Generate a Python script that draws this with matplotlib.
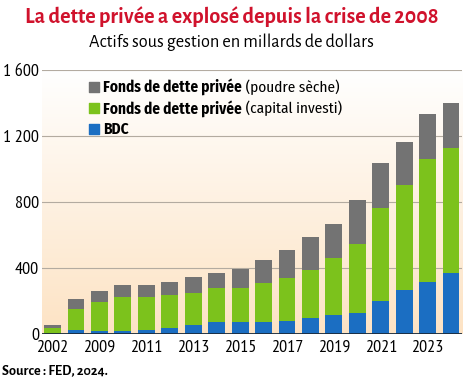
import numpy as np
import matplotlib
matplotlib.use('Agg')
import matplotlib.pyplot as plt
from matplotlib.colors import LinearSegmentedColormap

# Données (milliards de dollars)
annees = ['2002', '2008', '2009', '2010', '2011', '2012', '2013', '2014', '2015',
          '2016', '2017', '2018', '2019', '2020', '2021', '2022', '2023', '2024']
bdc = [3, 24, 18, 18, 26, 38, 55, 73, 75, 75, 81, 95, 115, 127, 198, 267, 313, 372]
capital_investi = [33, 126, 178, 204, 196, 198, 193, 204, 204, 232, 260, 291, 344, 420, 567, 636, 747, 757]
poudre_seche = [20, 60, 63, 73, 73, 79, 97, 95, 113, 141, 168, 202, 208, 265, 269, 262, 275, 269]

etiquettes = ['2002', '2009', '2011', '2013', '2015', '2017', '2019', '2021', '2023']

police_axes = ['PT Sans Narrow', 'DejaVu Sans']
police_legende = ['Fira Sans Condensed', 'DejaVu Sans']
police_titre = ['Alegreya Sans', 'DejaVu Sans']
plt.rcParams['font.family'] = police_axes

fig = plt.figure(figsize=(4.63, 3.8), dpi=100)
ax = fig.add_axes([0.0907, 0.121, 0.9073, 0.695])

x = np.arange(len(annees))
bdc = np.array(bdc)
cap = np.array(capital_investi)
sec = np.array(poudre_seche)

# fond dégradé
cmap = LinearSegmentedColormap.from_list('fond', ['#fde3c4', '#ffffff'])
grad = np.linspace(0, 1, 256).reshape(-1, 1)
ax.imshow(grad, aspect='auto', cmap=cmap, origin='lower',
          extent=[-0.45, 17.47, 0, 1600], zorder=0)

for v in [400, 800, 1200, 1600]:
    ax.axhline(v, color='#b3aba0', lw=0.8, zorder=1)

w = 0.72
ax.bar(x, bdc, w, color='#1b6ec2', zorder=2)
ax.bar(x, cap, w, bottom=bdc, color='#7cc21c', zorder=2)
ax.bar(x, sec, w, bottom=bdc + cap, color='#737373', zorder=2)
ax.axhline(0, color='#1a2a3a', lw=1.3, zorder=3)

ax.set_xlim(-0.45, 17.47)
ax.set_ylim(0, 1600)
ax.set_yticks([0, 400, 800, 1200, 1600])
ax.set_yticklabels(['0', '400', '800', '1\u2009200', '1\u2009600'], fontsize=13)
pos = [annees.index(a) for a in etiquettes]
ax.set_xticks(pos)
ax.set_xticklabels(etiquettes, fontsize=13)
ax.tick_params(length=0, pad=2)
ax.tick_params(axis='x', pad=4)
for s in ax.spines.values():
    s.set_visible(False)

# légende faite à la main
lignes = [('#737373', 'Fonds de dette privée', ' (poudre sèche)'),
          ('#7cc21c', 'Fonds de dette privée', ' (capital investi)'),
          ('#1b6ec2', 'BDC', '')]
for i, (c, gras, reste) in enumerate(lignes):
    yy = 1497 - i * 128
    ax.scatter([1.78], [yy], marker='s', s=50, color=c, zorder=4)
    t = ax.text(2.17, yy, gras, fontsize=11, fontweight='bold', va='center',
                family=police_legende, zorder=4)
    if reste:
        ax.annotate(reste, xycoords=t, xy=(1, 0.5), va='center', fontsize=11,
                    family=police_legende, zorder=4)

fig.text(0.5, 0.957, 'La dette privée a explosé depuis la crise de 2008', ha='center',
         va='center', color='#d0122c', fontsize=15.9, fontweight='bold', family=police_titre)
fig.text(0.5, 0.888, 'Actifs sous gestion en millards de dollars', ha='center',
         va='center', fontsize=13.2, family=police_titre)
fig.text(0.005, 0.026, 'Source : FED, 2024.', ha='left', va='center',
         fontsize=10.3, fontweight='bold', family=police_titre)

fig.savefig('out.png', dpi=100)
